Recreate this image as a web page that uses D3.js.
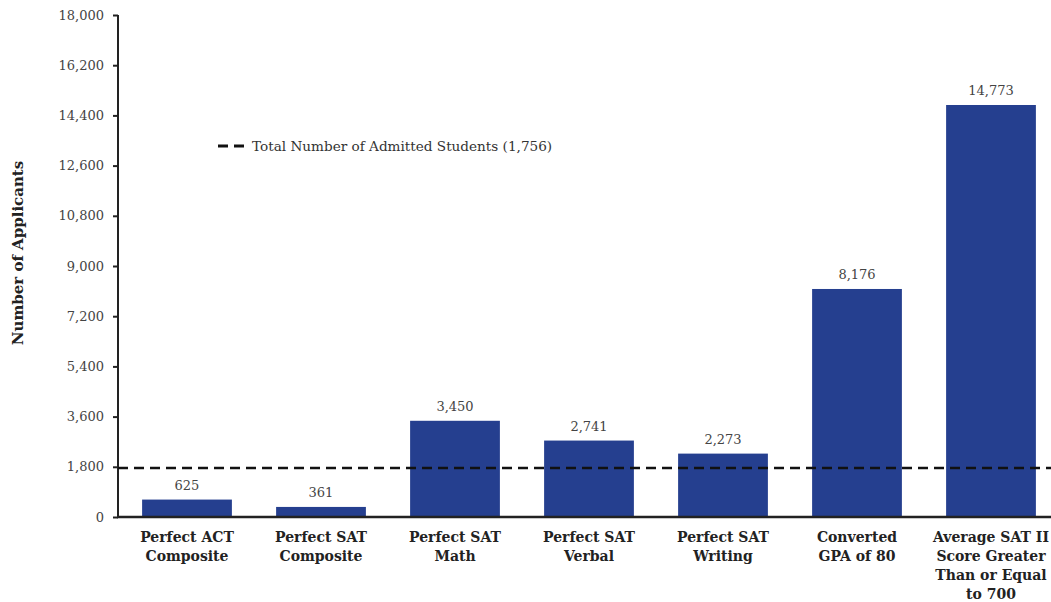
<!DOCTYPE html>
<html><head><meta charset="utf-8">
<script src="https://cdn.jsdelivr.net/npm/d3@7"></script>
<style>body{margin:0;background:#fff}svg{display:block}</style>
</head><body>
<svg id="c" width="1051" height="602"></svg>
<script>
const categories = [
  ["Perfect ACT","Composite"],
  ["Perfect SAT","Composite"],
  ["Perfect SAT","Math"],
  ["Perfect SAT","Verbal"],
  ["Perfect SAT","Writing"],
  ["Converted","GPA of 80"],
  ["Average SAT II","Score Greater","Than or Equal","to 700"]
];
const values = [625, 361, 3450, 2741, 2273, 8176, 14773];
const yTicks = [0, 1800, 3600, 5400, 7200, 9000, 10800, 12600, 14400, 16200, 18000];
const admitted = 1756;
const legendLabel = "Total Number of Admitted Students (1,756)";
const yTitle = "Number of Applicants";

const svg = d3.select("#c");
const font = "'DejaVu Serif', Georgia, serif";
const axisX = 118, y0 = 517, yTop = 15;
const ids = categories.map((c,i)=>i);
const x = d3.scaleBand().domain(ids).range([120, 1058]).paddingInner(0.33).paddingOuter(0.165);
const y = d3.scaleLinear().domain([0, 18000]).range([y0, yTop]);
const fmt = d3.format(",");

// bars
svg.selectAll("rect.bar").data(values).join("rect")
  .attr("x",(d,i)=>x(i)).attr("width",x.bandwidth())
  .attr("y",d=>y(d)).attr("height",d=>y0-y(d))
  .attr("fill","#253f8f");

// value labels
svg.selectAll("text.val").data(values).join("text")
  .attr("x",(d,i)=>x(i)+x.bandwidth()/2).attr("y",d=>y(d)-10)
  .attr("text-anchor","middle").attr("font-family",font).attr("font-size",13)
  .attr("fill","#444").text(d=>fmt(d));

// y axis
const yAxis = d3.axisLeft(y).tickValues(yTicks).tickFormat(fmt).tickSize(5).tickPadding(9);
const ga = svg.append("g").attr("transform",`translate(${axisX},0)`).call(yAxis);
ga.select(".domain").attr("stroke","#222").attr("stroke-width",2).attr("d",`M0,${yTop}V${y0}`);
ga.selectAll(".tick line").attr("stroke","#222").attr("stroke-width",2);
ga.selectAll(".tick text").attr("font-family",font).attr("font-size",13).attr("fill","#444");

// x axis line
svg.append("line").attr("x1",axisX-1).attr("x2",1051).attr("y1",y0).attr("y2",y0)
  .attr("stroke","#222").attr("stroke-width",2.5);

// dashed reference line
svg.append("line").attr("x1",axisX).attr("x2",1051).attr("y1",y(admitted)).attr("y2",y(admitted))
  .attr("stroke","#111").attr("stroke-width",2.5).attr("stroke-dasharray","10,6");

// category labels
const cg = svg.selectAll("text.cat").data(categories).join("text")
  .attr("text-anchor","middle").attr("font-family",font).attr("font-weight","bold")
  .attr("font-size",14).attr("fill","#222");
cg.each(function(lines,i){
  const t = d3.select(this);
  lines.forEach((l,j)=>t.append("tspan").attr("x",x(i)+x.bandwidth()/2).attr("y",542+j*19).text(l));
});

// legend
svg.append("line").attr("x1",218).attr("x2",246).attr("y1",146).attr("y2",146)
  .attr("stroke","#111").attr("stroke-width",3).attr("stroke-dasharray","10,6");
svg.append("text").attr("x",252).attr("y",151).attr("font-family",font).attr("font-size",13.6)
  .attr("fill","#333").text(legendLabel);

// y title
svg.append("text").attr("transform",`translate(23,253) rotate(-90)`).attr("text-anchor","middle")
  .attr("font-family",font).attr("font-weight","bold").attr("font-size",15).attr("fill","#222")
  .text(yTitle);
</script>
</body></html>
